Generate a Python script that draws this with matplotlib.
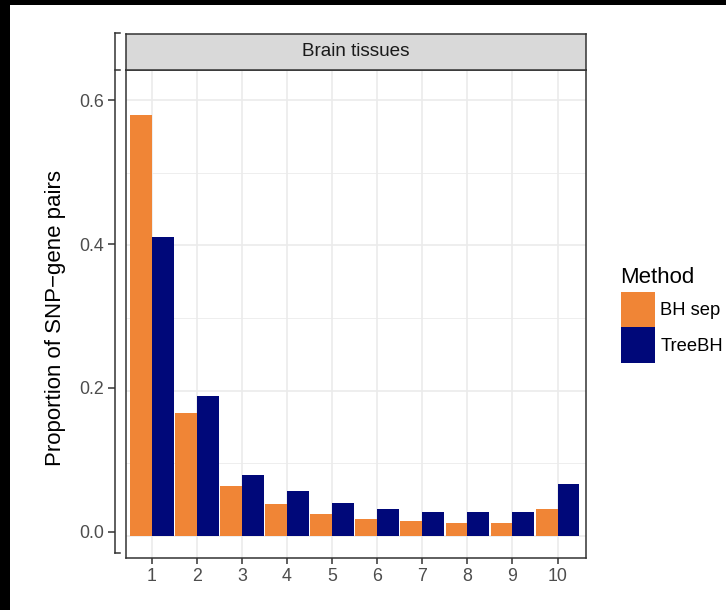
import matplotlib
matplotlib.use("Agg")
import matplotlib.pyplot as plt
from matplotlib.lines import Line2D
from matplotlib.patches import Patch, Rectangle
import numpy as np

plt.rcParams['font.family'] = ['Liberation Sans', 'DejaVu Sans']

# Data
levels = [1, 2, 3, 4, 5, 6, 7, 8, 9, 10]
bh_sep = [0.579, 0.170, 0.069, 0.044, 0.031, 0.024, 0.021, 0.018, 0.018, 0.037]
tree_bh = [0.411, 0.193, 0.084, 0.062, 0.046, 0.037, 0.033, 0.033, 0.033, 0.072]
methods = ["BH sep", "TreeBH"]
colors = ["#F08536", "#000879"]
y_ticks = [0.0, 0.2, 0.4, 0.6]
y_tick_labels = ["0.0", "0.2", "0.4", "0.6"]
facet_label = "Brain tissues"
y_title = "Proportion of SNP\u2212gene pairs"
legend_title = "Method"

W, H = 726, 610
DPI = 100
fig = plt.figure(figsize=(W / DPI, H / DPI), dpi=DPI)
fig.patch.set_facecolor("white")


def box(x0, y_top, x1, y_bot):
    """Pixel box (top-left origin) -> figure fraction rect."""
    return [x0 / W, (H - y_bot) / H, (x1 - x0) / W, (y_bot - y_top) / H]


def px_line(xs, ys, **kw):
    fig.add_artist(Line2D([x / W for x in xs], [(H - y) / H for y in ys],
                          transform=fig.transFigure, **kw))


dark = "#333333"
grey_txt = "#4D4D4D"
grid_col = "#EBEBEB"
small_fs = 12.8
big_fs = 16

# Panel
ax = fig.add_axes(box(126, 70, 586, 558))
x = np.array(levels, dtype=float)
bw = 0.485
ax.bar(x - bw / 2, bh_sep, width=bw, color=colors[0], linewidth=0, zorder=3)
ax.bar(x + bw / 2, tree_bh, width=bw, color=colors[1], linewidth=0, zorder=3)
ax.set_xlim(0.43, 10.63)
ax.set_ylim(-0.030, 0.641)
ax.set_xticks(levels)
ax.set_xticklabels([str(v) for v in levels])
ax.set_yticks(y_ticks)
ax.set_yticks([0.1, 0.3, 0.5], minor=True)
ax.tick_params(axis='y', which='both', left=False, labelleft=False)
ax.tick_params(axis='x', length=4, width=1.1, color=dark, labelsize=small_fs,
               labelcolor=grey_txt, pad=3.5)
ax.grid(True, which='major', color=grid_col, linewidth=1.2, zorder=0)
ax.grid(True, which='minor', axis='y', color=grid_col, linewidth=0.6, zorder=0)
ax.set_axisbelow(True)
for s in ax.spines.values():
    s.set_color(dark)
    s.set_linewidth(1.1)

# Facet strip
sax = fig.add_axes(box(126, 34, 586, 70))
sax.set_facecolor("#D9D9D9")
sax.set_xticks([])
sax.set_yticks([])
for s in sax.spines.values():
    s.set_color(dark)
    s.set_linewidth(1.1)
sax.text(0.5, 0.5, facet_label, ha='center', va='center', fontsize=13.6,
         color="#1A1A1A", transform=sax.transAxes)

# Y axis drawn as its own bracket beside the panel
yax = fig.add_axes(box(115, 33, 116, 553))
yax.set_facecolor("none")
yax.set_ylim(-0.0292, 0.6931)
yax.set_xlim(0, 1)
for k in ('top', 'right', 'bottom'):
    yax.spines[k].set_visible(False)
yax.spines['left'].set_color(dark)
yax.spines['left'].set_linewidth(1.1)
yax.set_xticks([])
yax.set_yticks(y_ticks)
yax.set_yticklabels(y_tick_labels)
yax.tick_params(axis='y', length=5, width=1.1, color=dark, labelsize=small_fs,
                labelcolor=grey_txt, pad=3)
for yy in (33, 70, 553):
    px_line([115, 119.5], [yy, yy], color=dark, linewidth=1.1)

fig.text(55 / W, (H - 318) / H, y_title, rotation=90, ha='center', va='center',
         fontsize=big_fs, color="#000000")

# Legend: title as text, keys stacked below it
fig.text(620 / W, (H - 283) / H, legend_title, ha='left', va='baseline',
         fontsize=big_fs, color="#000000")
handles = [Patch(facecolor=c, edgecolor='none', label=m) for c, m in zip(colors, methods)]
leg = fig.legend(handles=handles, loc='upper left',
                 bbox_to_anchor=(621 / W, (H - 292) / H), frameon=False,
                 fontsize=13.2, handlelength=1.85,
                 handleheight=2.6, labelspacing=0.0, handletextpad=0.3,
                 borderpad=0.0, borderaxespad=0.0)

# Dark frame at the top and left edges of the image
fig.add_artist(Rectangle((0, (H - 5) / H), 1, 5 / H, transform=fig.transFigure,
                         facecolor='black', edgecolor='none'))
fig.add_artist(Rectangle((0, 0), 10 / W, 1, transform=fig.transFigure,
                         facecolor='black', edgecolor='none'))

fig.savefig("out.png", dpi=DPI)
